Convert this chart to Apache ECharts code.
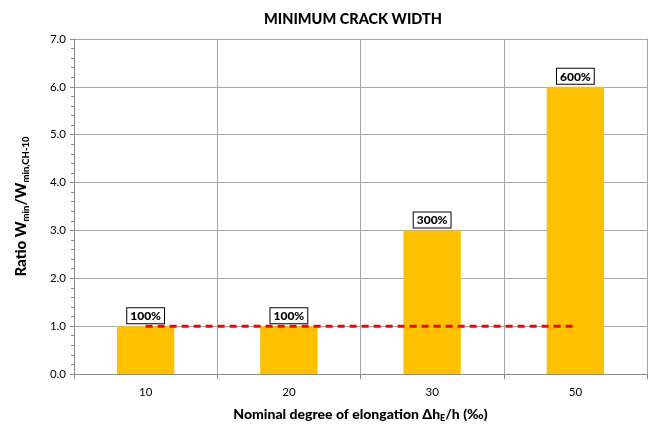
<!DOCTYPE html>
<html>
<head>
<meta charset="utf-8">
<script src="https://cdn.jsdelivr.net/npm/echarts@6/dist/echarts.min.js"></script>
<style>
  html, body { margin: 0; padding: 0; background: #fff; }
  #chart { width: 654px; height: 424px; }
</style>
</head>
<body>
<div id="chart"></div>
<script>
// Elongation steps (‰) and the crack-width ratio for each
const categories = ['10', '20', '30', '50'];
const ratioValues = [1.0, 1.0, 3.0, 6.0];
const ratioLabels = ['100%', '100%', '300%', '600%'];
// Reference level at ratio 1.0
const baseline = [1.0, 1.0, 1.0, 1.0];

const FONT = 'Lato, "Open Sans", sans-serif';
const GRID = '#a6a6a6';

const chart = echarts.init(document.getElementById('chart'), null, { renderer: 'canvas' });

chart.setOption({
  animation: false,
  title: {
    text: 'MINIMUM CRACK WIDTH',
    left: 348,
    textAlign: 'center',
    top: 7,
    textStyle: { fontFamily: FONT, fontSize: 14.5, fontWeight: 900, color: '#000' }
  },
  grid: { left: 74, right: 7, top: 39, bottom: 50, containLabel: false, outerBoundsMode: 'none' },
  xAxis: {
    type: 'category',
    data: categories,
    boundaryGap: true,
    axisLine: { lineStyle: { color: '#888', width: 1 } },
    axisTick: { show: true, inside: false, length: 5, alignWithLabel: false, lineStyle: { color: '#888' } },
    axisLabel: { color: '#000', fontFamily: FONT, fontSize: 11.5, margin: 12 },
    splitLine: { show: true, interval: 0, lineStyle: { color: GRID, width: 1 } },
    name: '{t|Nominal degree of elongation Δh}{s|E}{t|/h (‰)}',
    nameLocation: 'middle',
    nameGap: 31,
    nameTextStyle: {
      rich: {
        t: { fontFamily: FONT, fontSize: 14, fontWeight: 900, color: '#000', lineHeight: 18 },
        s: { fontFamily: FONT, fontSize: 9, fontWeight: 900, color: '#000', lineHeight: 9, verticalAlign: 'bottom' }
      }
    }
  },
  yAxis: [
    {
      type: 'value',
      min: 0,
      max: 7,
      interval: 1,
      axisLine: { show: true, lineStyle: { color: '#888', width: 1 } },
      axisTick: { show: true, length: 4, lineStyle: { color: '#888' } },
      minorTick: { show: true, splitNumber: 5, length: 3, lineStyle: { color: '#888' } },
      axisLabel: {
        color: '#000', fontFamily: FONT, fontSize: 11.5, margin: 8,
        formatter: v => v.toFixed(1)
      },
      splitLine: { show: true, lineStyle: { color: GRID, width: 1 } },
      name: '{t|Ratio W}{s|min}{t|/W}{s|min,CH-10}',
      nameLocation: 'middle',
      nameGap: 43,
      nameRotate: 90,
      nameTextStyle: {
        rich: {
          t: { fontFamily: FONT, fontSize: 15, fontWeight: 900, color: '#000', lineHeight: 19 },
          s: { fontFamily: FONT, fontSize: 9.5, fontWeight: 900, color: '#000', lineHeight: 9, verticalAlign: 'bottom' }
        }
      }
    },
    {
      // plain border on the right edge of the plot
      type: 'value',
      position: 'right',
      min: 0,
      max: 7,
      interval: 1,
      axisLine: { show: true, lineStyle: { color: GRID, width: 1 } },
      axisTick: { show: false },
      axisLabel: { show: false },
      splitLine: { show: false }
    }
  ],
  series: [
    {
      type: 'bar',
      data: ratioValues,
      barWidth: '40%',
      itemStyle: { color: '#FFC000' },
      z: 2,
      label: {
        show: true,
        position: 'top',
        distance: 3,
        formatter: p => ratioLabels[p.dataIndex],
        fontFamily: FONT,
        fontSize: 12,
        fontWeight: 900,
        color: '#000',
        backgroundColor: '#fff',
        borderColor: '#000',
        borderWidth: 1,
        padding: [2, 3, 1, 3]
      }
    },
    {
      type: 'line',
      data: baseline,
      symbol: 'none',
      z: 5,
      lineStyle: { color: '#FF0000', width: 3, type: [7, 5] }
    }
  ]
});
</script>
</body>
</html>
